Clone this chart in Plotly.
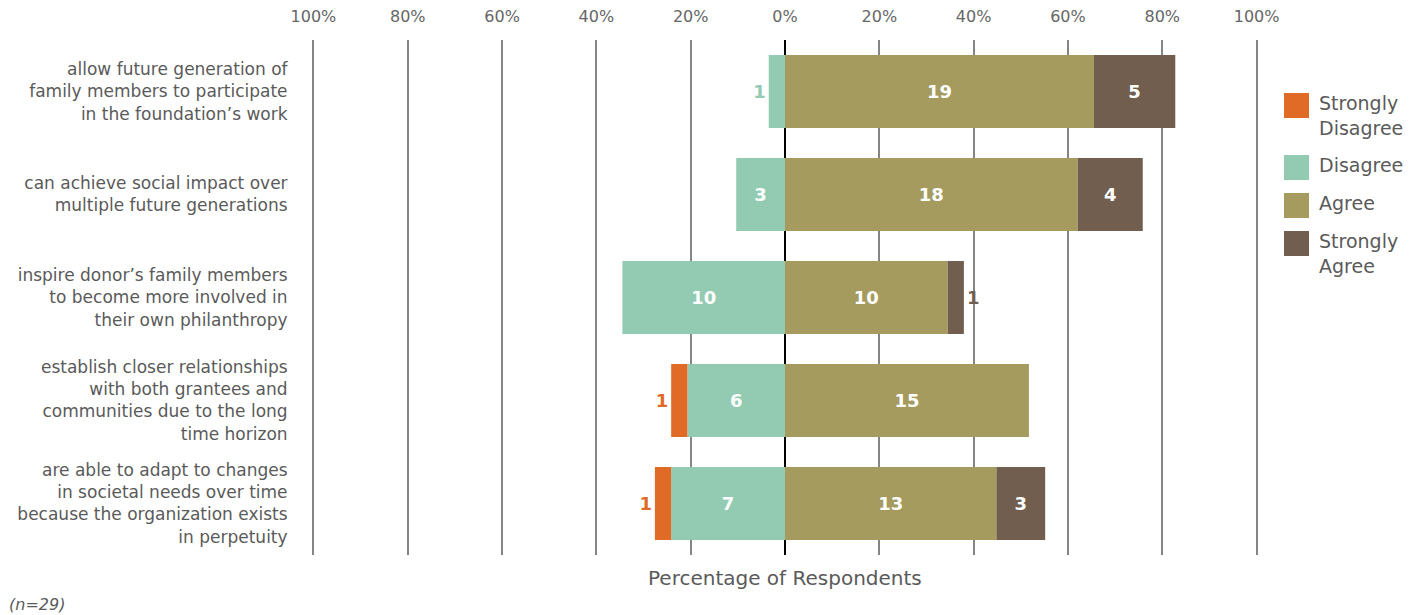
import plotly.graph_objects as go

N = 29
statements = [
    "allow future generation of<br>family members to participate<br>in the foundation’s work",
    "can achieve social impact over<br>multiple future generations",
    "inspire donor’s family members<br>to become more involved in<br>their own philanthropy",
    "establish closer relationships<br>with both grantees and<br>communities due to the long<br>time horizon",
    "are able to adapt to changes<br>in societal needs over time<br>because the organization exists<br>in perpetuity",
]
strongly_disagree = [0, 0, 0, 1, 1]
disagree = [1, 3, 10, 6, 7]
agree = [19, 18, 10, 15, 13]
strongly_agree = [5, 4, 1, 0, 3]

tick_vals = [-100, -80, -60, -40, -20, 0, 20, 40, 60, 80, 100]
tick_text = ["100%", "80%", "60%", "40%", "20%", "0%", "20%", "40%", "60%", "80%", "100%"]

legend_names = ["Strongly<br>Disagree", "Disagree", "Agree", "Strongly<br>Agree"]
colors = {
    "Strongly<br>Disagree": "#E06B26",
    "Disagree": "#93CBB2",
    "Agree": "#A59B5F",
    "Strongly<br>Agree": "#725E4F",
}

FONT = "DejaVu Sans"
TXT = "#5a5a5a"
OFF = 8  # browser default body margin
FW, FH = 1421 - OFF, 615 - OFF
# plot-area geometry (figure pixels)
L, W, T, H = 312 - OFF, 946, 40 - OFF, 515


def px(xp):  # xp: screenshot pixel
    return (xp - OFF - L) / W


def py(yp):
    return (T + H - (yp - OFF)) / H


fig = go.Figure()


def add(name, counts, sign):
    xs = [sign * c / N * 100 if c else None for c in counts]
    texts = [str(c) if c else "" for c in counts]
    pos = ["inside" if c >= 3 else "outside" for c in counts]
    fig.add_trace(go.Bar(
        y=statements, x=xs, orientation="h", name=name,
        marker=dict(color=colors[name], line=dict(width=0)),
        text=texts, textposition=pos, textangle=0, constraintext="none",
        insidetextanchor="middle",
        insidetextfont=dict(color="white", size=18, family=FONT, weight="bold"),
        outsidetextfont=dict(color=colors[name], size=18, family=FONT, weight="bold"),
        showlegend=False, hoverinfo="skip",
    ))


add("Disagree", disagree, -1)
add("Strongly<br>Disagree", strongly_disagree, -1)
add("Agree", agree, 1)
add("Strongly<br>Agree", strongly_agree, 1)

annotations = [
    dict(text="Percentage of Respondents", x=0, xref="x", y=py(578), yref="paper",
         xanchor="center", yanchor="middle", showarrow=False,
         font=dict(size=20, color=TXT, family=FONT)),
    dict(text="<i>(n=29)</i>", x=px(7), xref="paper", y=py(604), yref="paper",
         xanchor="left", yanchor="middle", showarrow=False,
         font=dict(size=16, color=TXT, family=FONT)),
]
shapes = []
# manual legend (square swatches like the reference)
sw_top = [93, 155, 193, 231]
for name, top in zip(legend_names, sw_top):
    shapes.append(dict(type="rect", xref="paper", yref="paper",
                       x0=px(1284), x1=px(1309), y0=py(top + 25), y1=py(top),
                       fillcolor=colors[name], line=dict(width=0)))
    annotations.append(dict(text=name, x=px(1317), xref="paper", y=py(top - 3),
                            yref="paper", xanchor="left", yanchor="top",
                            align="left", showarrow=False,
                            font=dict(size=19, color=TXT, family=FONT)))

fig.update_layout(
    width=FW, height=FH,
    barmode="relative", bargap=0.29,
    plot_bgcolor="white", paper_bgcolor="white",
    margin=dict(l=L, r=FW - L - W, t=T, b=FH - T - H, autoexpand=False),
    font=dict(family=FONT, color=TXT, size=16),
    showlegend=False,
    xaxis=dict(side="top", range=[-100.3, 100.3], tickvals=tick_vals, ticktext=tick_text,
               showgrid=True, gridcolor="#858585", gridwidth=2,
               zeroline=True, zerolinecolor="#000000", zerolinewidth=2,
               showline=False, ticks="outside", ticklen=11, tickcolor="rgba(0,0,0,0)",
               tickfont=dict(size=16, color="#666666"),
               automargin=False, fixedrange=True),
    yaxis=dict(autorange="reversed", showgrid=False, zeroline=False, showline=False,
               ticks="outside", ticklen=20, tickcolor="rgba(0,0,0,0)",
               tickfont=dict(size=17, color=TXT), automargin=False),
    annotations=annotations,
    shapes=shapes,
)

fig.write_html("out.html")
